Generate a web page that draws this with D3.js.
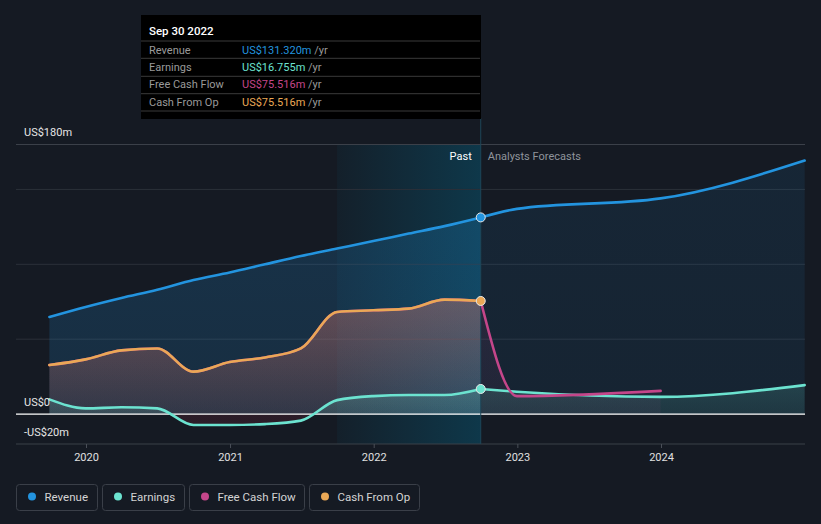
<!DOCTYPE html>
<html>
<head>
<meta charset="utf-8">
<script src="https://cdn.jsdelivr.net/npm/d3@7/dist/d3.min.js"></script>
<style>
  html, body { margin: 0; padding: 0; background: #151a23; }
  svg { display: block; font-family: Roboto, "Noto Sans", sans-serif; }
</style>
</head>
<body>
<svg id="chart" width="821" height="524"></svg>
<script>
// ---------- data ----------
const pastDates = ["2019-09-30","2019-12-31","2020-03-31","2020-06-30","2020-09-30","2020-12-31","2021-03-31","2021-06-30","2021-09-30","2021-12-31","2022-03-31","2022-06-30","2022-09-30"];
const revenuePast  = [64.8, 71.5, 77.5, 83.0, 89.5, 94.5, 100.0, 105.5, 110.5, 115.5, 120.5, 125.5, 131.32];
const earningsPast = [9.8, 3.8, 4.5, 3.8, -7.3, -7.3, -6.7, -4.4, 9.3, 12.0, 12.7, 12.7, 16.755];
const fcfPast      = [32.7, 36.5, 42.5, 43.8, 28.3, 34.7, 37.8, 43.8, 68.2, 69.3, 70.4, 76.4, 75.516];
const cfoPast      = [32.7, 36.5, 42.5, 43.8, 28.3, 34.7, 37.8, 43.8, 68.2, 69.3, 70.4, 76.4, 75.516];

const forecastDates    = ["2022-09-30","2022-12-31","2023-12-31","2024-12-31"];
const revenueForecast  = [131.32, 137.0, 144.0, 169.3];
const earningsForecast = [16.755, 14.9, 11.5, 19.3];
const fcfForecastDates = ["2022-09-30","2022-12-31","2023-12-31"];
const fcfForecast      = [75.516, 12.0, 15.5];

const yTickValues = [-20, 0, 180];
const yTickLabels = ["-US$20m", "US$0", "US$180m"];
const yGridValues = [50, 100, 150];
const xTickLabels = ["2020", "2021", "2022", "2023", "2024"];

const seriesNames  = ["Revenue", "Earnings", "Free Cash Flow", "Cash From Op"];
const seriesColors = ["#2394df", "#6ce3d0", "#c4468a", "#eaa856"];

const tooltipTitle  = "Sep 30 2022";
const tooltipValues = ["US$131.320m", "US$16.755m", "US$75.516m", "US$75.516m"];
const highlightStart = "2021-09-30";
const presentDate = "2022-09-30";

// ---------- setup ----------
const parse = d3.timeParse("%Y-%m-%d");
const svg = d3.select("#chart");
const W = 821, H = 524;
const plotLeft = 16, plotRight = 805;

const x = d3.scaleTime()
  .domain([parse("2020-01-01"), parse("2024-01-01")])
  .range([86, 661]);
const y = d3.scaleLinear().domain([-20, 180]).range([444, 144.5]);

const zip = (dates, vals) => dates.map((d, i) => ({ date: parse(d), v: vals[i] }));
const revP = zip(pastDates, revenuePast);
const earnP = zip(pastDates, earningsPast);
const fcfP = zip(pastDates, fcfPast);
const cfoP = zip(pastDates, cfoPast);
const revF = zip(forecastDates, revenueForecast);
const earnF = zip(forecastDates, earningsForecast);
const fcfF = zip(fcfForecastDates, fcfForecast);

svg.append("rect").attr("width", W).attr("height", H).attr("fill", "#151a23");

const defs = svg.append("defs");

// highlight gradient (horizontal)
const hg = defs.append("linearGradient").attr("id", "hlGrad")
  .attr("x1", "0").attr("x2", "1").attr("y1", "0").attr("y2", "0");
hg.append("stop").attr("offset", "0%").attr("stop-color", "#0a4a62").attr("stop-opacity", 0.12);
hg.append("stop").attr("offset", "100%").attr("stop-color", "#0a4a62").attr("stop-opacity", 0.62);

function vGrad(id, color, yTop, yBot, o1, o2) {
  const g = defs.append("linearGradient").attr("id", id)
    .attr("gradientUnits", "userSpaceOnUse")
    .attr("x1", 0).attr("x2", 0).attr("y1", yTop).attr("y2", yBot);
  g.append("stop").attr("offset", "0%").attr("stop-color", color).attr("stop-opacity", o1);
  g.append("stop").attr("offset", "100%").attr("stop-color", color).attr("stop-opacity", o2);
}
vGrad("revPastGrad", seriesColors[0], y(140), y(0), 0.2, 0.16);
vGrad("revFcGrad", seriesColors[0], y(170), y(0), 0.1, 0.08);
vGrad("cfoGrad", seriesColors[3], y(78), y(0), 0.26, 0.07);
vGrad("fcfGrad", seriesColors[2], y(78), y(0), 0.2, 0.07);
vGrad("fcfFcGrad", seriesColors[2], y(78), y(0), 0.1, 0.06);

// earnings gradient: teal above zero, red below
const eg = defs.append("linearGradient").attr("id", "earnGrad")
  .attr("gradientUnits", "userSpaceOnUse")
  .attr("x1", 0).attr("x2", 0).attr("y1", y(20)).attr("y2", y(-10));
const zOff = (y(0) - y(20)) / (y(-10) - y(20));
eg.append("stop").attr("offset", 0).attr("stop-color", seriesColors[1]).attr("stop-opacity", 0.22);
eg.append("stop").attr("offset", zOff).attr("stop-color", seriesColors[1]).attr("stop-opacity", 0.12);
eg.append("stop").attr("offset", zOff).attr("stop-color", "#d03050").attr("stop-opacity", 0.12);
eg.append("stop").attr("offset", 1).attr("stop-color", "#d03050").attr("stop-opacity", 0.12);
const egf = defs.append("linearGradient").attr("id", "earnFcGrad")
  .attr("gradientUnits", "userSpaceOnUse")
  .attr("x1", 0).attr("x2", 0).attr("y1", y(20)).attr("y2", y(0));
egf.append("stop").attr("offset", 0).attr("stop-color", seriesColors[1]).attr("stop-opacity", 0.16);
egf.append("stop").attr("offset", 1).attr("stop-color", seriesColors[1]).attr("stop-opacity", 0.1);

// highlight region (last 12 months)
const xHs = x(parse(highlightStart)), xNow = x(parse(presentDate));
svg.append("rect")
  .attr("x", xHs).attr("y", y(180)).attr("width", xNow - xHs).attr("height", y(-20) - y(180))
  .attr("fill", "url(#hlGrad)");

// gridlines
svg.append("g").selectAll("line").data(yGridValues).join("line")
  .attr("x1", plotLeft).attr("x2", plotRight)
  .attr("y1", d => y(d)).attr("y2", d => y(d))
  .attr("stroke", "#2b3039").attr("stroke-width", 1);
svg.append("line").attr("x1", plotLeft).attr("x2", plotRight)
  .attr("y1", y(180)).attr("y2", y(180)).attr("stroke", "#3b4049");
svg.append("line").attr("x1", plotLeft).attr("x2", plotRight)
  .attr("y1", y(-20)).attr("y2", y(-20)).attr("stroke", "#3b4049");

// areas & lines
const curve = d3.curveMonotoneX;
const area = d3.area().x(d => x(d.date)).y0(y(0)).y1(d => y(d.v)).curve(curve);
const line = d3.line().x(d => x(d.date)).y(d => y(d.v)).curve(curve);

const areas = svg.append("g");
areas.append("path").attr("d", area(revP)).attr("fill", "url(#revPastGrad)");
areas.append("path").attr("d", area(revF)).attr("fill", "url(#revFcGrad)");
areas.append("path").attr("d", area(cfoP)).attr("fill", "url(#cfoGrad)");
areas.append("path").attr("d", area(fcfP)).attr("fill", "url(#fcfGrad)");
areas.append("path").attr("d", area(fcfF)).attr("fill", "url(#fcfFcGrad)");
areas.append("path").attr("d", area(earnP)).attr("fill", "url(#earnGrad)");
areas.append("path").attr("d", area(earnF)).attr("fill", "url(#earnFcGrad)");

// zero line
svg.append("line").attr("x1", plotLeft).attr("x2", plotRight)
  .attr("y1", y(0)).attr("y2", y(0)).attr("stroke", "#ffffff").attr("stroke-width", 1.2);

// present vertical line
svg.append("line").attr("x1", xNow).attr("x2", xNow)
  .attr("y1", 118).attr("y2", y(-20))
  .attr("stroke", "#1d4658").attr("stroke-width", 1);

const lines = svg.append("g").attr("fill", "none").attr("stroke-width", 2.6)
  .attr("stroke-linecap", "round").attr("stroke-linejoin", "round");
lines.append("path").attr("d", line(revP)).attr("stroke", seriesColors[0]);
lines.append("path").attr("d", line(revF)).attr("stroke", seriesColors[0]);
lines.append("path").attr("d", line(earnP)).attr("stroke", seriesColors[1]);
lines.append("path").attr("d", line(earnF)).attr("stroke", seriesColors[1]);
lines.append("path").attr("d", line(fcfP)).attr("stroke", seriesColors[2]);
lines.append("path").attr("d", line(fcfF)).attr("stroke", seriesColors[2]);
lines.append("path").attr("d", line(cfoP)).attr("stroke", seriesColors[3]);

// markers at present
const markers = [
  { v: revenuePast[revenuePast.length - 1], c: seriesColors[0] },
  { v: cfoPast[cfoPast.length - 1], c: seriesColors[3] },
  { v: earningsPast[earningsPast.length - 1], c: seriesColors[1] }
];
svg.append("g").selectAll("circle").data(markers).join("circle")
  .attr("cx", xNow).attr("cy", d => y(d.v)).attr("r", 4.5)
  .attr("fill", d => d.c).attr("stroke", "#e8e8e8").attr("stroke-width", 1);

// Past / forecast labels
svg.append("text").attr("x", xNow - 9).attr("y", 160).attr("text-anchor", "end")
  .attr("fill", "#ffffff").attr("font-size", 11).text("Past");
svg.append("text").attr("x", xNow + 7).attr("y", 160)
  .attr("fill", "#8f949b").attr("font-size", 11).text("Analysts Forecasts");

// y labels
svg.append("g").selectAll("text").data(yTickValues).join("text")
  .attr("x", 24).attr("y", d => d === 180 ? y(d) - 9 : y(d) - 8)
  .attr("fill", "#e6e6e6").attr("font-size", 11)
  .text((d, i) => yTickLabels[i]);

// x axis
const xAxis = d3.axisBottom(x)
  .tickValues(xTickLabels.map(t => parse(t + "-01-01")))
  .tickFormat((d, i) => xTickLabels[i])
  .tickSize(4).tickPadding(5);
const xg = svg.append("g").attr("transform", `translate(0,${y(-20)})`).call(xAxis);
xg.select(".domain").remove();
xg.selectAll(".tick line").attr("stroke", "#4a4f58");
xg.selectAll(".tick text").attr("fill", "#e0e0e0").attr("font-size", 11)
  .attr("font-family", "Roboto, sans-serif");

// tooltip
const tt = svg.append("g").attr("transform", "translate(141,15)");
tt.append("rect").attr("width", 340).attr("height", 104).attr("fill", "#000000");
tt.append("text").attr("x", 8).attr("y", 20).attr("fill", "#ffffff")
  .attr("font-size", 11.5).attr("font-weight", 500).text(tooltipTitle);
const sepYs = [26, 43.3, 61.3, 78.7, 96];
tt.append("g").selectAll("line").data(sepYs).join("line")
  .attr("x1", 0).attr("x2", 339).attr("y1", d => d).attr("y2", d => d)
  .attr("stroke", "#3a3a3a").attr("stroke-width", 1);
seriesNames.forEach((name, i) => {
  const by = 38.5 + i * 17.4;
  tt.append("text").attr("x", 8).attr("y", by).attr("fill", "#9a9a9a")
    .attr("font-size", 11).text(name);
  const t = tt.append("text").attr("x", 101).attr("y", by).attr("font-size", 11);
  t.append("tspan").attr("fill", seriesColors[i]).text(tooltipValues[i]);
  t.append("tspan").attr("fill", "#9a9a9a").text(" /yr");
});

// legend
const legendX = [16.5, 102.5, 189.5, 309.5];
const legendW = [81, 82, 115, 110];
const lg = svg.append("g");
seriesNames.forEach((name, i) => {
  const g = lg.append("g").attr("transform", `translate(${legendX[i]},484.5)`);
  g.append("rect").attr("width", legendW[i]).attr("height", 26).attr("rx", 3)
    .attr("fill", "none").attr("stroke", "#3a3f48").attr("stroke-width", 1);
  g.append("circle").attr("cx", 15.5).attr("cy", 12).attr("r", 4).attr("fill", seriesColors[i]);
  g.append("text").attr("x", 28).attr("y", 16).attr("fill", "#d4d4d4")
    .attr("font-size", 11.5).text(name);
});
</script>
</body>
</html>
